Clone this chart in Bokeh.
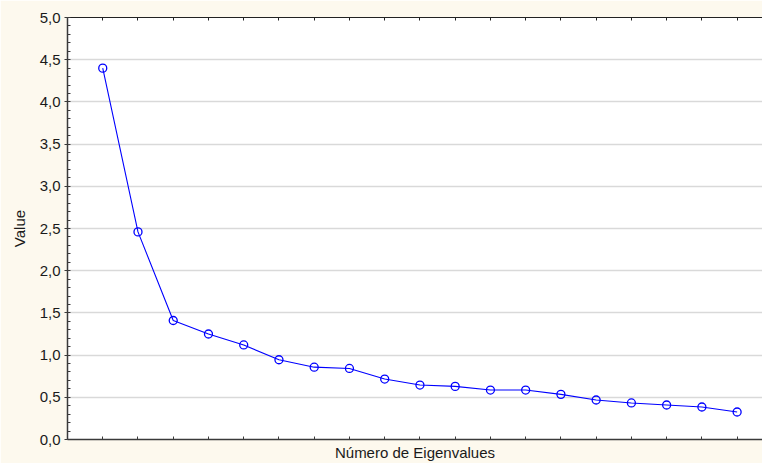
from bokeh.plotting import figure
from bokeh.models import LinearAxis, FixedTicker, CustomLabelingPolicy
from bokeh.embed import file_html
from bokeh.resources import INLINE
import numpy as np

# data
components = [1, 2, 3, 4, 5, 6, 7, 8, 9, 10, 11, 12, 13, 14, 15, 16, 17, 18, 19]
eigenvalues = [4.40, 2.46, 1.41, 1.25, 1.12, 0.945, 0.857, 0.842, 0.716, 0.645,
               0.629, 0.586, 0.586, 0.535, 0.468, 0.433, 0.409, 0.385, 0.326]
y_ticks = [0.0, 0.5, 1.0, 1.5, 2.0, 2.5, 3.0, 3.5, 4.0, 4.5, 5.0]
y_tick_labels = ["0,0", "0,5", "1,0", "1,5", "2,0", "2,5", "3,0", "3,5", "4,0", "4,5", "5,0"]
x_label = "Número de Eigenvalues"
y_label = "Value"

FONT = "Liberation Sans"
CREAM = "#fdf9ee"
AX = "#3a3a3a"

p = figure(width=762, height=463, output_backend="svg", toolbar_location=None,
           x_range=(0, 19.72), y_range=(0, 5.0),
           min_border_left=67, min_border_right=0, min_border_top=17, min_border_bottom=22)
p.background_fill_color = "white"
p.border_fill_color = CREAM
p.outline_line_color = None

p.line(components, eigenvalues, line_color="#0000ff", line_width=1.1)
p.scatter(components, eigenvalues, marker="circle", size=8, fill_color=None,
          line_color="#0000ff", line_width=1.3)

# y axis
yax = p.yaxis[0]
yax.ticker = FixedTicker(ticks=y_ticks,
                         minor_ticks=list(np.round(np.arange(0, 5.001, 0.1), 1)))
yax.major_label_overrides = {t: l for t, l in zip(y_ticks, y_tick_labels)}
yax.axis_label = y_label
yax.axis_label_text_font = FONT
yax.axis_label_text_font_size = "15px"
yax.axis_label_text_font_style = "normal"
yax.axis_label_text_color = "#1a1a1a"
yax.axis_label_standoff = 9
yax.major_label_text_font = FONT
yax.major_label_text_font_size = "15px"
yax.major_label_text_color = "#1a1a1a"
yax.major_label_standoff = 4
yax.major_tick_in = 0
yax.major_tick_out = 3
yax.minor_tick_in = 3
yax.minor_tick_out = 0
yax.axis_line_color = AX
yax.axis_line_width = 1.5
yax.major_tick_line_color = AX
yax.minor_tick_line_color = AX

# x axis (bottom)
xax = p.xaxis[0]
xax.ticker = FixedTicker(ticks=components, minor_ticks=[])
xax.major_label_policy = CustomLabelingPolicy(code="return []")
xax.major_label_text_font_size = "1px"
xax.major_label_standoff = 0
xax.major_tick_in = 3
xax.major_tick_out = 0
xax.minor_tick_in = 0
xax.minor_tick_out = 0
xax.axis_line_color = AX
xax.axis_line_width = 1.5
xax.major_tick_line_color = AX
xax.axis_label = x_label
xax.axis_label_text_font = FONT
xax.axis_label_text_font_size = "15px"
xax.axis_label_text_font_style = "normal"
xax.axis_label_text_color = "#1a1a1a"
xax.axis_label_standoff = 0

# top axis
top = LinearAxis(ticker=FixedTicker(ticks=components, minor_ticks=[]))
top.major_label_policy = CustomLabelingPolicy(code="return []")
top.major_label_text_font_size = "1px"
top.major_label_standoff = 0
top.major_tick_in = 3
top.major_tick_out = 0
top.minor_tick_in = 0
top.minor_tick_out = 0
top.axis_line_color = "#222222"
top.axis_line_width = 1.2
top.major_tick_line_color = "#222222"
p.add_layout(top, "above")

p.xgrid.visible = False
p.ygrid.ticker = FixedTicker(ticks=y_ticks)
p.ygrid.grid_line_color = "#d9d9d9"
p.ygrid.grid_line_width = 1.5

open("out.html", "w").write(file_html(p, INLINE))
